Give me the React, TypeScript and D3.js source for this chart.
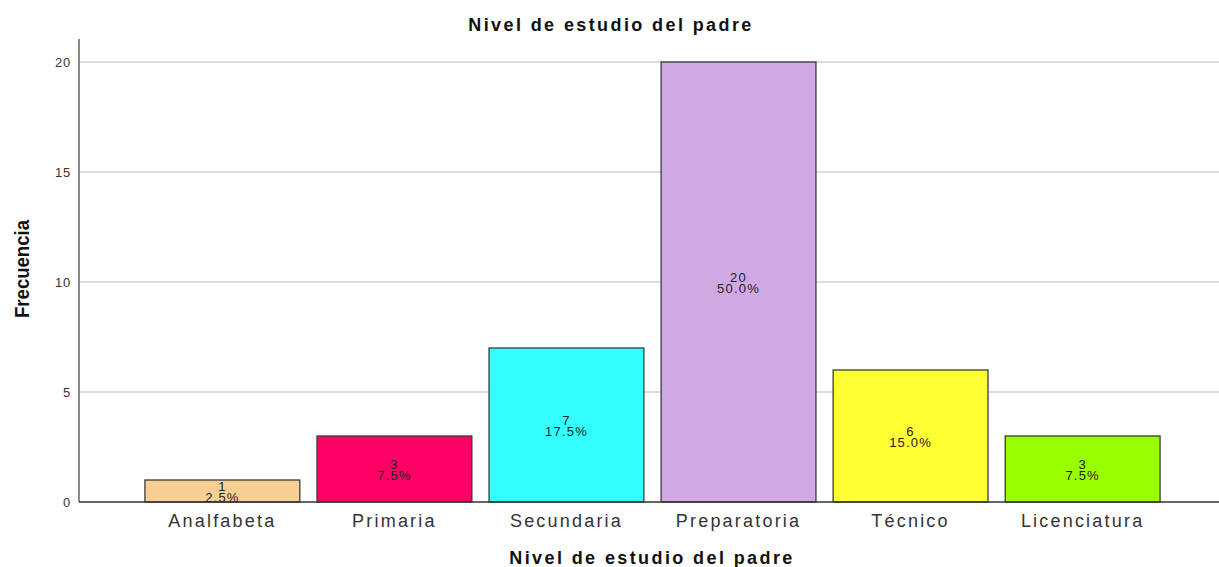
import React from "react";
import * as d3 from "d3";

const categories = ["Analfabeta", "Primaria", "Secundaria", "Preparatoria", "Técnico", "Licenciatura"];
const counts = [1, 3, 7, 20, 6, 3];
const percents = ["2.5%", "7.5%", "17.5%", "50.0%", "15.0%", "7.5%"];
const colors = ["#F7CF93", "#FF0066", "#33FFFF", "#D0A8E4", "#FFFF33", "#99FF00"];
const yTicks = [0, 5, 10, 15, 20];
const title = "Nivel de estudio del padre";
const xTitle = "Nivel de estudio del padre";
const yTitle = "Frecuencia";

const W = 1219;
const H = 567;
const FONT = "Arial, 'Liberation Sans', Helvetica, sans-serif";

export default function App() {
  const x = d3.scaleBand<string>().domain(categories).range([83, 1222]).paddingInner(0.1).paddingOuter(0.36);
  const y = d3.scaleLinear().domain([0, 21]).range([502, 40]);
  const axisX = 79;
  const right = 1219;

  return (
    <svg width={W} height={H} style={{ position: "absolute", left: 0, top: 0, background: "#fff" }}>
      <rect x={0} y={0} width={W} height={H} fill="#fff" />
      {/* title */}
      <text x={611} y={31} textAnchor="middle" fontFamily={FONT} fontWeight="bold" fontSize={18} letterSpacing={2.4} fill="#111">
        {title}
      </text>
      {/* gridlines */}
      {yTicks.filter((t) => t > 0).map((t) => (
        <line key={t} x1={axisX} x2={right} y1={y(t)} y2={y(t)} stroke="#d2d2d2" strokeWidth={1.5} />
      ))}
      {/* y tick labels */}
      {yTicks.map((t) => (
        <text key={t} x={71} y={y(t) + 5} textAnchor="end" fontFamily={FONT} fontSize={13} letterSpacing={0.8} fill="#333">
          {t}
        </text>
      ))}
      {/* bars */}
      {categories.map((c, i) => {
        const x0 = x(c)!;
        const bw = x.bandwidth();
        const y0 = y(counts[i]);
        const mid = (y0 + y(0)) / 2;
        return (
          <g key={c}>
            <rect x={x0} y={y0} width={bw} height={y(0) - y0} fill={colors[i]} stroke="#3a3a3a" strokeWidth={1.3} />
            <text x={x0 + bw / 2} y={mid} textAnchor="middle" fontFamily={FONT} fontSize={13} letterSpacing={1.2} fill="#222">
              {counts[i]}
            </text>
            <text x={x0 + bw / 2} y={mid + 11} textAnchor="middle" fontFamily={FONT} fontSize={13} letterSpacing={1.2} fill="#222">
              {percents[i]}
            </text>
            <text x={x0 + bw / 2} y={527} textAnchor="middle" fontFamily={FONT} fontSize={18} letterSpacing={2.2} fill="#333">
              {c}
            </text>
          </g>
        );
      })}
      {/* axes */}
      <line x1={axisX} x2={axisX} y1={39} y2={y(0)} stroke="#8a8a8a" strokeWidth={2} />
      <line x1={axisX} x2={right} y1={y(0)} y2={y(0)} stroke="#333" strokeWidth={1.5} />
      {/* x title */}
      <text x={652} y={564} textAnchor="middle" fontFamily={FONT} fontWeight="bold" fontSize={18} letterSpacing={2.4} fill="#111">
        {xTitle}
      </text>
      {/* y title */}
      <text
        transform="translate(29,269) rotate(-90)"
        textAnchor="middle"
        fontFamily={FONT}
        fontWeight="bold"
        fontSize={21}
        textLength={98}
        lengthAdjust="spacingAndGlyphs"
        fill="#111"
      >
        {yTitle}
      </text>
    </svg>
  );
}
